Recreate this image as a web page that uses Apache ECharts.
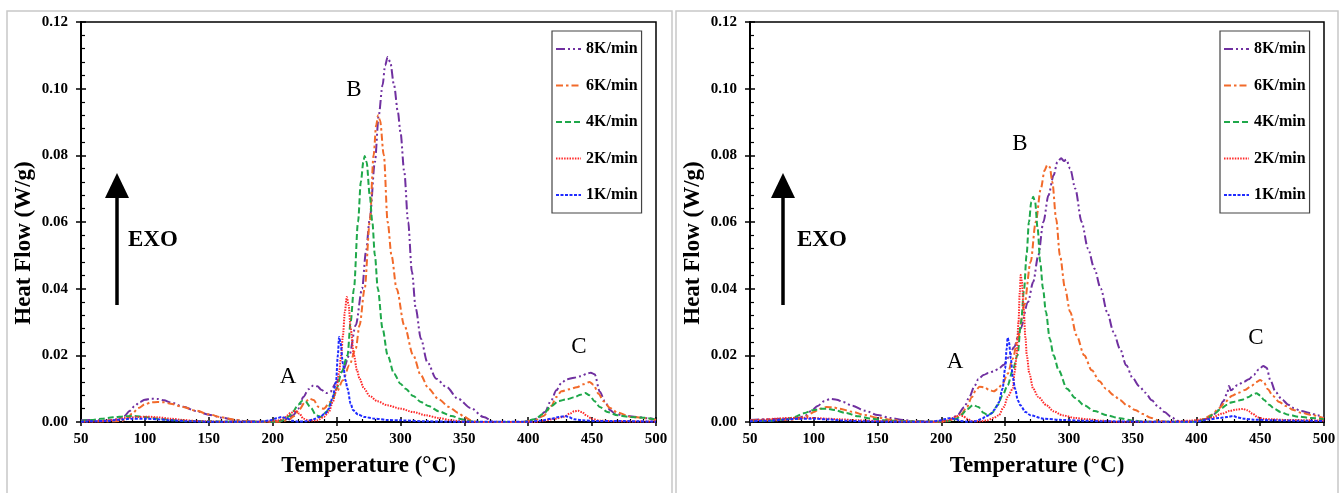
<!DOCTYPE html>
<html>
<head>
<meta charset="utf-8">
<script src="https://cdn.jsdelivr.net/npm/echarts@6/dist/echarts.min.js"></script>
<style>html,body{margin:0;padding:0;background:#fff;}#c{width:1344px;height:493px;}</style>
</head>
<body>
<div id="c"></div>
<script>
// ---------- data ----------
const rates = ['8K/min', '6K/min', '4K/min', '2K/min', '1K/min'];
const xTicks = [50, 100, 150, 200, 250, 300, 350, 400, 450, 500];
const yTicks = [0.00, 0.02, 0.04, 0.06, 0.08, 0.10, 0.12];

// left panel
const L8 = [[50,0.0005],[60,0.0006],[70,0.0004],[78,0.0008],[84,0.0018],[88,0.0033],[92,0.0048],[96,0.006],[100,0.0067],[105,0.007],[110,0.0069],[115,0.0065],[120,0.0059],[130,0.0046],[140,0.0033],[150,0.0022],[160,0.0013],[170,0.0006],[180,0.0002],[190,0.0001],[200,0.0001],[206,0.0003],[211,0.0009],[216,0.002],[220,0.004],[224,0.0075],[228,0.0098],[232,0.011],[235,0.0107],[238,0.0097],[242,0.0087],[245,0.009],[250,0.012],[255,0.0155],[260,0.02],[265,0.029],[270,0.04],[273,0.051],[276,0.061],[280,0.078],[283,0.092],[286,0.101],[288,0.107],[290,0.1095],[292,0.108],[295,0.101],[298,0.093],[300,0.087],[303,0.075],[306,0.06],[309,0.045],[312,0.034],[316,0.025],[321,0.018],[328,0.013],[336,0.0105],[345,0.007],[355,0.0042],[365,0.0015],[373,0.0001],[380,0],[395,0],[402,0.0003],[408,0.0012],[413,0.003],[418,0.0065],[422,0.0095],[426,0.0117],[430,0.0128],[436,0.0133],[441,0.0137],[446,0.0145],[449,0.0148],[452,0.0143],[456,0.0091],[460,0.0062],[464,0.0036],[468,0.0025],[474,0.002],[485,0.0015],[495,0.0011],[500,0.0006]];
const L6 = [[50,0.0002],[70,0.0002],[82,0.0003],[86,0.001],[90,0.0025],[95,0.0042],[100,0.0053],[105,0.0059],[110,0.006],[115,0.0059],[120,0.0055],[130,0.0045],[140,0.0034],[150,0.0023],[160,0.0014],[170,0.0007],[180,0.0002],[190,0.0001],[205,0.0001],[212,0.0006],[217,0.0018],[221,0.0038],[225,0.0058],[229,0.007],[232,0.0066],[236,0.0045],[240,0.004],[245,0.006],[250,0.009],[255,0.0125],[260,0.017],[265,0.022],[268,0.029],[272,0.04],[276,0.06],[279,0.08],[281,0.089],[282.5,0.092],[284,0.0905],[287,0.08],[290,0.06],[293,0.05],[297,0.04],[303,0.029],[310,0.02],[316,0.014],[322,0.01],[330,0.0068],[338,0.0045],[345,0.0028],[350,0.0015],[355,0.0005],[360,0],[395,0],[405,0.0005],[412,0.0018],[418,0.0048],[422,0.0075],[426,0.0092],[432,0.0098],[438,0.0104],[443,0.0113],[448,0.012],[451,0.0112],[455,0.0085],[459,0.0062],[464,0.0042],[470,0.0028],[480,0.0016],[490,0.0012],[500,0.0006]];
const L4 = [[50,0.0003],[58,0.0006],[66,0.001],[75,0.0014],[85,0.0017],[92,0.0018],[100,0.0015],[110,0.001],[120,0.0006],[135,0.0003],[150,0.0002],[170,0.0001],[200,0.0001],[207,0.0004],[212,0.0015],[216,0.0032],[220,0.0052],[223,0.0063],[226,0.006],[230,0.0042],[234,0.002],[238,0.0015],[242,0.003],[246,0.006],[250,0.01],[254,0.015],[258.6,0.02],[261,0.03],[263.6,0.04],[266.8,0.06],[269,0.072],[271,0.078],[272,0.0798],[273.5,0.078],[276,0.068],[278,0.06],[280,0.05],[282.3,0.04],[286,0.028],[290,0.02],[295,0.0145],[300,0.0115],[304,0.01],[310,0.0078],[316,0.006],[322,0.0048],[330,0.0032],[340,0.0018],[348,0.0008],[355,0.0002],[365,0],[395,0],[405,0.0008],[412,0.0025],[418,0.0048],[424,0.0063],[430,0.0068],[436,0.0074],[441,0.0082],[444.5,0.0087],[448,0.008],[452,0.0062],[456,0.0045],[462,0.003],[470,0.002],[480,0.0015],[490,0.0013],[500,0.0007]];
const L2 = [[50,0.0001],[65,0.0002],[75,0.0006],[85,0.0012],[95,0.0015],[102,0.0016],[110,0.0014],[120,0.001],[130,0.0006],[140,0.0003],[160,0.0001],[195,0.0001],[205,0.0005],[210,0.0015],[214,0.0027],[218,0.0034],[221,0.0025],[224,0.001],[228,0.0004],[235,0.0005],[240,0.0015],[244,0.003],[247,0.006],[250,0.01],[252,0.015],[253.6,0.02],[255,0.026],[256.5,0.033],[258,0.0375],[259.5,0.035],[261,0.028],[263.6,0.02],[266,0.0155],[268,0.013],[271.5,0.01],[276,0.0078],[282,0.0062],[290,0.005],[300,0.004],[310,0.003],[320,0.002],[330,0.0012],[340,0.0005],[350,0.0001],[360,0],[405,0],[412,0.0004],[420,0.0009],[428,0.0016],[433,0.0026],[436,0.0032],[439,0.0034],[442,0.003],[446,0.0018],[450,0.0009],[456,0.0004],[470,0.0002],[500,0.0001]];
const L1 = [[50,0.0001],[70,0.0003],[80,0.0007],[90,0.001],[100,0.001],[110,0.0008],[120,0.0005],[135,0.0002],[150,0.0001],[190,0.0001],[198,0.0005],[203,0.0011],[207,0.0015],[211,0.0011],[215,0.0004],[220,0.0001],[226,0.0002],[232,0.0008],[237,0.0016],[241,0.0025],[244,0.004],[247,0.0075],[249.6,0.012],[251,0.02],[252,0.0255],[253,0.024],[255,0.0175],[257,0.0125],[258.6,0.01],[261,0.0055],[263,0.0035],[267,0.0022],[272,0.0015],[280,0.001],[290,0.0006],[300,0.0005],[320,0.0002],[340,0.0001],[400,0.0001],[410,0.0004],[418,0.001],[424,0.0015],[429,0.0018],[432,0.0014],[436,0.0008],[442,0.0005],[455,0.0003],[470,0.0003],[500,0.0001]];

// right panel
const R8 = [[50,0.0006],[60,0.0008],[70,0.0009],[80,0.001],[88,0.0012],[93,0.0018],[98,0.0033],[103,0.0048],[108,0.0062],[113,0.0069],[118,0.0067],[123,0.006],[130,0.0049],[140,0.0034],[150,0.0021],[160,0.0012],[170,0.0006],[180,0.0002],[195,0.0001],[203,0.0003],[208,0.0009],[213,0.0022],[218,0.0045],[222,0.0075],[226,0.0108],[229,0.0128],[233,0.0141],[237,0.0147],[241,0.0152],[245,0.016],[249,0.0172],[253,0.0195],[257,0.0225],[262,0.028],[268,0.036],[272,0.042],[276,0.05],[280,0.06],[284,0.068],[288,0.074],[291,0.078],[294,0.0791],[296,0.0783],[298,0.0787],[301,0.076],[305,0.07],[310,0.06],[315,0.052],[320,0.046],[325,0.04],[330,0.033],[335,0.027],[340,0.022],[345,0.017],[350,0.0132],[355,0.0108],[360,0.0088],[365,0.0065],[370,0.0046],[375,0.003],[380,0.0016],[385,0.0004],[390,0],[398,0.0002],[405,0.0006],[412,0.0016],[417,0.0035],[421,0.0062],[424,0.0085],[425.5,0.0108],[427,0.0095],[432,0.011],[437,0.012],[441,0.0128],[445,0.0142],[449,0.0158],[452.4,0.0168],[455,0.0163],[458,0.0125],[462,0.009],[467,0.0068],[472,0.0052],[476,0.0042],[482,0.0033],[489,0.0027],[495,0.002],[500,0.0012]];
const R6 = [[50,0.0004],[65,0.0005],[80,0.0006],[88,0.0009],[95,0.0018],[100,0.003],[105,0.004],[110,0.0045],[115,0.0044],[120,0.004],[130,0.0031],[140,0.0021],[150,0.0013],[160,0.0007],[170,0.0003],[185,0.0001],[200,0.0001],[206,0.0004],[211,0.0012],[216,0.0025],[220,0.0045],[224,0.0075],[227,0.0095],[230,0.0106],[234,0.0104],[237.5,0.0096],[241,0.0092],[244,0.0098],[248,0.0115],[252,0.0145],[256,0.019],[260,0.025],[265,0.035],[270,0.048],[274,0.06],[278,0.07],[281,0.0755],[283,0.0771],[285,0.0765],[287,0.072],[290,0.061],[293,0.05],[297,0.04],[301,0.033],[306,0.026],[312,0.02],[318,0.0155],[324,0.0122],[329,0.01],[335,0.0081],[340,0.0066],[345.5,0.005],[352,0.0036],[358,0.0024],[364,0.0013],[370,0.0005],[376,0],[398,0],[405,0.0008],[412,0.0022],[418,0.0042],[423,0.0062],[428,0.0079],[433,0.0088],[438,0.0096],[443,0.0108],[447,0.012],[450,0.0126],[453,0.0118],[456,0.0098],[460,0.0078],[465,0.006],[470,0.0048],[476,0.0036],[482,0.0028],[490,0.0021],[500,0.0011]];
const R4 = [[50,0.0003],[65,0.0004],[78,0.0008],[85,0.0015],[92,0.0026],[100,0.0036],[106,0.004],[110,0.004],[116,0.0036],[125,0.0027],[135,0.0017],[145,0.001],[155,0.0005],[170,0.0002],[200,0.0001],[207,0.0003],[212,0.001],[216,0.0022],[220,0.0038],[225,0.0051],[229,0.0045],[233,0.0028],[236.6,0.002],[240,0.0028],[244,0.005],[248,0.008],[252,0.011],[256,0.0155],[259.7,0.02],[262.5,0.03],[264.9,0.04],[266.8,0.05],[268.7,0.06],[270.5,0.066],[272,0.0676],[273.5,0.066],[275.5,0.058],[277.5,0.048],[279.7,0.04],[282,0.033],[285,0.025],[288,0.02],[292,0.0155],[298.5,0.01],[305,0.0072],[312,0.005],[320,0.0033],[330,0.002],[340,0.0011],[350,0.0004],[360,0.0001],[400,0.0001],[408,0.001],[414,0.0025],[420,0.0042],[424,0.0052],[426,0.0058],[430,0.0061],[436,0.0067],[441,0.0075],[444,0.0082],[447,0.0086],[450,0.008],[453,0.0066],[457,0.0052],[461,0.004],[466,0.003],[472,0.0022],[480,0.0016],[490,0.0012],[500,0.0008]];
const R2 = [[50,0.0004],[60,0.0007],[70,0.001],[80,0.0012],[90,0.0013],[100,0.0012],[110,0.001],[120,0.0008],[135,0.0005],[150,0.0003],[170,0.0001],[200,0.0001],[205,0.0004],[209,0.0012],[212,0.0018],[214.6,0.0021],[217,0.0018],[220,0.001],[224,0.0003],[230,0.0002],[236,0.0005],[241,0.0012],[245,0.002],[249,0.0045],[252,0.0075],[256,0.01],[257.5,0.015],[259,0.02],[260.5,0.03],[261.5,0.039],[262.2,0.0441],[263.2,0.042],[264.5,0.034],[266,0.025],[267,0.02],[269,0.0145],[272,0.01],[276,0.0075],[282.5,0.005],[288,0.0032],[295,0.002],[305,0.0012],[315,0.0008],[325,0.0004],[335,0.0001],[380,0.0001],[395,0.0004],[405,0.0008],[412,0.0013],[420,0.0025],[426,0.0033],[431,0.0037],[436.5,0.0039],[440,0.0035],[444,0.0025],[448,0.0014],[453,0.0009],[460,0.0008],[470,0.0006],[500,0.0004]];
const R1 = [[50,0.0002],[65,0.0004],[80,0.0008],[90,0.001],[100,0.001],[110,0.0008],[125,0.0004],[140,0.0002],[160,0.0001],[192,0.0001],[198,0.0004],[203,0.0009],[207,0.0012],[211,0.0009],[215,0.0003],[220,0.0001],[226,0.0002],[231,0.0008],[235.6,0.0018],[239,0.0025],[242,0.0038],[245,0.0058],[248,0.01],[250,0.016],[251.2,0.022],[252,0.0253],[253,0.024],[254.5,0.019],[256,0.0135],[257.8,0.01],[260,0.0065],[262,0.005],[266,0.003],[270,0.002],[280,0.001],[295,0.0006],[310,0.0004],[330,0.0002],[360,0.0001],[400,0.0001],[410,0.0008],[418,0.0012],[424,0.0015],[429,0.0018],[432,0.0014],[437,0.001],[445,0.0007],[460,0.0005],[480,0.0004],[500,0.0003]];

const leftSeries = [L8, L6, L4, L2, L1];
const rightSeries = [R8, R6, R4, R2, R1];

// ---------- styles ----------
const FONT = '"Liberation Serif", "Times New Roman", serif';
const colors = ['#7030A0', '#F26A2A', '#1FA84A', '#FF2A2A', '#1F2BFF'];
const dashes = [[9, 3, 2, 3, 2, 3], [7, 3, 2.5, 3], [6, 3], [1.5, 1.2], [3, 1.5]];

const grids = [
  { left: 81, top: 22, width: 575, height: 400 },
  { left: 750, top: 22, width: 574, height: 400 }
];

function mainX(g) {
  return {
    type: 'value', gridIndex: g, position: 'bottom', min: xTicks[0], max: xTicks[xTicks.length - 1], interval: 50,
    axisLine: { onZero: false, lineStyle: { color: '#000', width: 2 } },
    axisTick: { inside: true, length: 5, lineStyle: { color: '#000', width: 1.5 } },
    minorTick: { show: true, splitNumber: 5, length: 3, lineStyle: { color: '#000', width: 1.2 } },
    splitLine: { show: false },
    axisLabel: { color: '#000', fontFamily: FONT, fontWeight: 'bold', fontSize: 15, margin: 10 },
    name: 'Temperature (°C)', nameLocation: 'middle', nameGap: 33,
    nameTextStyle: { color: '#000', fontFamily: FONT, fontWeight: 'bold', fontSize: 23 }
  };
}
function outX(g) {
  return {
    type: 'value', gridIndex: g, position: 'bottom', min: xTicks[0], max: xTicks[xTicks.length - 1], interval: 50,
    axisLine: { show: false, onZero: false }, axisTick: { inside: false, length: 4, lineStyle: { color: '#000', width: 1.5 } },
    axisLabel: { show: false }, splitLine: { show: false }
  };
}
function mainY(g) {
  return {
    type: 'value', gridIndex: g, position: 'left', min: yTicks[0], max: yTicks[yTicks.length - 1], interval: 0.02,
    axisLine: { onZero: false, lineStyle: { color: '#000', width: 2 } },
    axisTick: { inside: true, length: 5, lineStyle: { color: '#000', width: 1.5 } },
    minorTick: { show: true, splitNumber: 5, length: 4, lineStyle: { color: '#000', width: 1.2 } },
    splitLine: { show: false },
    axisLabel: { color: '#000', fontFamily: FONT, fontWeight: 'bold', fontSize: 15, margin: 13,
      formatter: v => v.toFixed(2) }
  };
}
function outY(g) {
  return {
    type: 'value', gridIndex: g, position: 'left', min: yTicks[0], max: yTicks[yTicks.length - 1], interval: 0.02,
    axisLine: { show: false, onZero: false }, axisTick: { inside: false, length: 5, lineStyle: { color: '#000', width: 1.5 } },
    axisLabel: { show: false }, splitLine: { show: false }
  };
}

function mk(data, i, g) {
  return {
    name: rates[i], type: 'line', xAxisIndex: g, yAxisIndex: g, data: data,
    symbol: 'none', smooth: 0.3, smoothMonotone: 'x', z: 3 + i,
    lineStyle: { color: colors[i], width: 2, type: dashes[i] },
    itemStyle: { color: colors[i] }
  };
}

const series = [];
leftSeries.forEach((d, i) => series.push(mk(d, i, 0)));
rightSeries.forEach((d, i) => series.push(mk(d, i, 1)));

function legend(left) {
  return {
    left: left, top: 31, orient: 'vertical', data: rates, selectedMode: false,
    itemWidth: 25, itemHeight: 14, itemGap: 20.5, padding: [10, 4, 10, 3],
    borderColor: '#444', borderWidth: 1.2, backgroundColor: '#fff',
    itemStyle: { color: 'rgba(0,0,0,0)', borderColor: 'rgba(0,0,0,0)', borderWidth: 0, opacity: 0 },
    textStyle: { color: '#000', fontFamily: FONT, fontWeight: 'bold', fontSize: 16 }
  };
}

function arrow(x) {
  return [
    { type: 'line', silent: true, shape: { x1: x, y1: 305, x2: x, y2: 192 }, style: { stroke: '#000', lineWidth: 3.5 } },
    { type: 'polygon', silent: true, shape: { points: [[x - 12, 198], [x, 173], [x + 12, 198]] }, style: { fill: '#000' } }
  ];
}
function txt(t, x, y, font, align, rot) {
  return { type: 'text', silent: true, x: x, y: y, rotation: rot || 0,
    style: { text: t, fill: '#000', font: font, align: align || 'center', verticalAlign: 'middle' } };
}
const bigBold = 'bold 23px "Liberation Serif", serif';
const letter = '23px "Liberation Serif", serif';

const option = {
  animation: false,
  backgroundColor: '#fff',
  grid: grids.map(g => Object.assign({ show: true, borderColor: '#000', borderWidth: 1.5, backgroundColor: 'transparent' }, g)),
  xAxis: [mainX(0), mainX(1), outX(0), outX(1)],
  yAxis: [mainY(0), mainY(1), outY(0), outY(1)],
  legend: [legend(552), legend(1220)],
  series: series,
  graphic: [
    { type: 'rect', silent: true, shape: { x: 7, y: 11, width: 665, height: 490 }, style: { fill: 'none', stroke: '#c8c8c8', lineWidth: 1.5 } },
    { type: 'rect', silent: true, shape: { x: 676, y: 11, width: 662, height: 490 }, style: { fill: 'none', stroke: '#c8c8c8', lineWidth: 1.5 } },
    ...arrow(117), ...arrow(783),
    txt('Heat Flow (W/g)', 24, 243, bigBold, 'center', Math.PI / 2),
    txt('Heat Flow (W/g)', 693, 243, bigBold, 'center', Math.PI / 2),
    txt('EXO', 128, 240, bigBold, 'left'), txt('EXO', 797, 240, bigBold, 'left'),
    txt('A', 288, 377, letter), txt('B', 354, 90, letter), txt('C', 579, 347, letter),
    txt('A', 955, 362, letter), txt('B', 1020, 144, letter), txt('C', 1256, 338, letter)
  ]
};

const chart = echarts.init(document.getElementById('c'), null, { renderer: 'canvas' });
chart.setOption(option);
</script>
</body>
</html>
